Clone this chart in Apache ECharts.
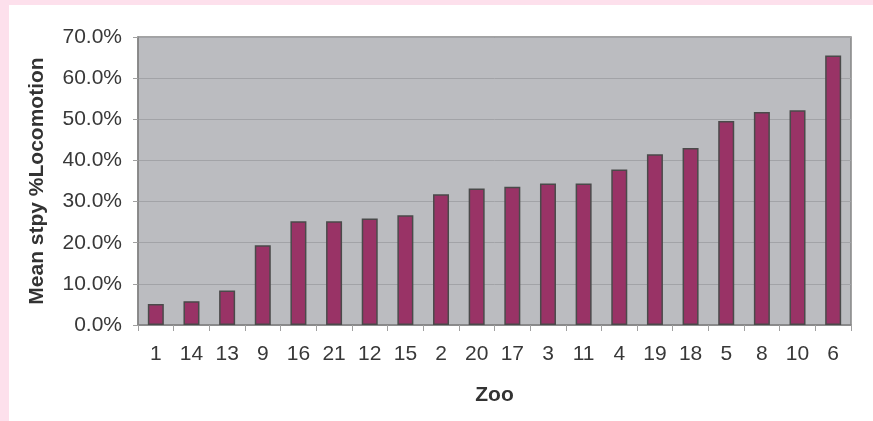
<!DOCTYPE html>
<html>
<head>
<meta charset="utf-8">
<script src="https://cdn.jsdelivr.net/npm/echarts@6/dist/echarts.min.js"></script>
<style>
  html, body { margin: 0; padding: 0; background: #ffffff; }
  #frame {
    position: absolute; left: 0; top: 0; width: 873px; height: 421px;
    box-sizing: border-box;
    border-top: 5px solid #fde0ec;
    border-left: 9px solid #fde0ec;
  }
  #chart { position: absolute; left: 0; top: 0; width: 873px; height: 421px; }
</style>
</head>
<body>
<div id="frame"></div>
<div id="chart"></div>
<script>
// Zoo identifiers, sorted by mean share of time spent in stereotypic locomotion
const zoos = ['1', '14', '13', '9', '16', '21', '12', '15', '2', '20', '17', '3', '11', '4', '19', '18', '5', '8', '10', '6'];
// Mean stereotypy % locomotion per zoo (percent)
const locomotion = [5.1, 5.8, 8.4, 19.4, 25.2, 25.2, 25.9, 26.7, 31.8, 33.2, 33.6, 34.4, 34.4, 37.8, 41.5, 43.0, 49.6, 51.8, 52.2, 65.5];
// Value-axis range and step (percent)
const yMin = 0, yMax = 70, yStep = 10;

const chart = echarts.init(document.getElementById('chart'), null, { renderer: 'canvas' });
const font = '"Liberation Sans", Arial, sans-serif';

chart.setOption({
  animation: false,
  backgroundColor: 'transparent',
  grid: {
    left: 138, top: 37, right: 22, bottom: 96,
    show: true,
    backgroundColor: '#bbbcc0',
    borderColor: '#858585',
    borderWidth: 1.5
  },
  xAxis: {
    type: 'category',
    data: zoos,
    name: 'Zoo',
    nameLocation: 'middle',
    nameGap: 60,
    nameTextStyle: { fontFamily: font, fontSize: 21, fontWeight: 'bold', color: '#333333' },
    axisLine: { show: true, lineStyle: { color: '#858585', width: 1.5 } },
    axisTick: { show: true, length: 6, lineStyle: { color: '#a0a0a0', width: 1 } },
    axisLabel: { fontFamily: font, fontSize: 21, color: '#383838', margin: 19, interval: 0 }
  },
  yAxis: {
    type: 'value',
    min: yMin, max: yMax, interval: yStep,
    name: 'Mean stpy %Locomotion',
    nameLocation: 'middle',
    nameGap: 90,
    nameTextStyle: { fontFamily: font, fontSize: 21, fontWeight: 'bold', color: '#333333' },
    axisLine: { show: true, lineStyle: { color: '#858585', width: 1.5 } },
    axisTick: { show: true, length: 5, lineStyle: { color: '#a0a0a0', width: 1 } },
    axisLabel: {
      fontFamily: font, fontSize: 21, color: '#383838', margin: 16,
      formatter: v => v.toFixed(1) + '%'
    },
    splitLine: { show: true, lineStyle: { color: '#a2a3a7', width: 1 } }
  },
  series: [{
    type: 'bar',
    data: locomotion,
    barWidth: 16,
    itemStyle: { color: '#993366', borderColor: '#4a4a4a', borderWidth: 1.5 }
  }]
});
</script>
</body>
</html>
